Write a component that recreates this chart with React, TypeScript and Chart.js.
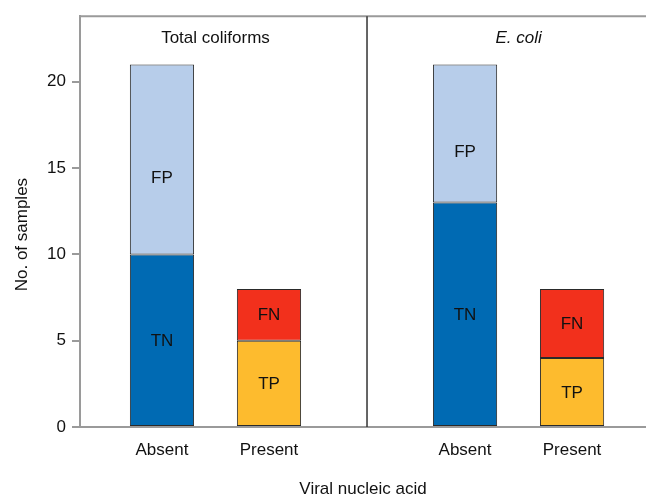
import { useEffect, useRef } from "react";
import { Chart, registerables } from "chart.js";

Chart.register(...registerables);

// ---- data ----
const groups = ["Total coliforms", "E. coli"];
const groupItalic = [false, true];
const categories = ["Absent", "Present"];
const trueNegative = [10, 13];
const falsePositive = [11, 8];
const truePositive = [5, 4];
const falseNegative = [3, 4];
const yTicks = [0, 5, 10, 15, 20];
const xTitle = "Viral nucleic acid";
const yTitle = "No. of samples";

// ---- layout constants (axis units) ----
const GROUP_STEP = 2.832;
const X_MIN = -0.766;
const X_MAX = 4.523;
const Y_MAX = 23.8;
const pos = (g: number, c: number) => g * GROUP_STEP + c;

const FONT = "'Liberation Sans', Arial, Helvetica, sans-serif";
const AXIS_GRAY = "#9a9a9a";

const overlayPlugin = {
  id: "overlay",
  afterDatasetsDraw(chart: any) {
    const { ctx, chartArea, scales } = chart;
    const { left, right, top, bottom } = chartArea;
    const xs = scales.x;
    const ys = scales.y;
    ctx.save();
    // top frame line
    ctx.strokeStyle = AXIS_GRAY;
    ctx.lineWidth = 2;
    ctx.beginPath();
    ctx.moveTo(left - 1, top);
    ctx.lineTo(right, top);
    ctx.stroke();
    // divider between panels
    const divX = xs.getPixelForValue((pos(0, categories.length - 1) + pos(1, 0)) / 2);
    ctx.strokeStyle = "#333333";
    ctx.lineWidth = 1.5;
    ctx.beginPath();
    ctx.moveTo(divX, top);
    ctx.lineTo(divX, bottom);
    ctx.stroke();
    // panel titles
    ctx.fillStyle = "#111111";
    ctx.textAlign = "center";
    ctx.textBaseline = "middle";
    groups.forEach((name, g) => {
      const cx = xs.getPixelForValue((pos(g, 0) + pos(g, categories.length - 1)) / 2);
      ctx.font = `${groupItalic[g] ? "italic " : ""}17px ${FONT}`;
      ctx.fillText(name, cx, top + 22);
    });
    // segment labels
    ctx.font = `17px ${FONT}`;
    chart.data.datasets.forEach((ds: any, i: number) => {
      const meta = chart.getDatasetMeta(i);
      const shiftPx = Math.abs(ys.getPixelForValue(0) - ys.getPixelForValue(ds.labelShift || 0));
      meta.data.forEach((el: any) => {
        const cy = (el.y + el.base) / 2 + shiftPx;
        ctx.fillText(ds.label, el.x, cy + 1);
      });
    });
    // y title
    ctx.translate(22, (top + bottom) / 2 + 13);
    ctx.rotate(-Math.PI / 2);
    ctx.fillText(yTitle, 0, 0);
    ctx.restore();
  },
};

export default function App() {
  const ref = useRef<HTMLCanvasElement | null>(null);

  useEffect(() => {
    if (!ref.current) return;
    const border = "#2a2a2a";
    const mk = (label: string, c: number, values: number[], color: string, labelShift = 0) => ({
      label,
      labelShift,
      data: groups.map((_, g) => ({ x: pos(g, c), y: values[g] })),
      backgroundColor: color,
      borderColor: border,
      borderWidth: 1,
      borderSkipped: false,
      barPercentage: 0.6,
      categoryPercentage: 1.0,
    });
    const chart = new Chart(ref.current, {
      type: "bar",
      data: {
        datasets: [
          mk("TN", 0, trueNegative, "#006ab3"),
          mk("FP", 0, falsePositive, "#b7cdea", 1.05),
          mk("TP", 1, truePositive, "#fdbb2e"),
          mk("FN", 1, falseNegative, "#f2301c"),
        ],
      },
      options: {
        animation: false,
        responsive: false,
        layout: { padding: { top: 14, left: 0, right: 0, bottom: 0 } },
        plugins: {
          legend: { display: false },
          tooltip: { enabled: false },
        },
        scales: {
          x: {
            type: "linear",
            stacked: true,
            offset: false,
            min: X_MIN,
            max: X_MAX,
            grid: { display: false, drawTicks: false, offset: false },
            border: { display: true, color: AXIS_GRAY, width: 2 },
            afterBuildTicks: (scale: any) => {
              scale.ticks = groups.flatMap((_, g) =>
                categories.map((_, c) => ({ value: pos(g, c) }))
              );
            },
            afterFit: (scale: any) => {
              scale.height = 73;
            },
            ticks: {
              autoSkip: false,
              maxRotation: 0,
              padding: 13,
              color: "#111111",
              font: { family: FONT, size: 17 },
              callback: (_v: any, i: number) => categories[i % categories.length],
            },
            title: {
              display: true,
              text: xTitle,
              color: "#111111",
              font: { family: FONT, size: 17 },
              padding: { top: 0, bottom: 0 },
            },
          },
          y: {
            type: "linear",
            stacked: true,
            min: 0,
            max: Y_MAX,
            grid: {
              drawOnChartArea: false,
              drawTicks: true,
              tickLength: 8,
              color: AXIS_GRAY,
              lineWidth: 2,
            },
            border: { display: true, color: AXIS_GRAY, width: 2 },
            afterBuildTicks: (scale: any) => {
              scale.ticks = yTicks.map((v) => ({ value: v }));
            },
            afterFit: (scale: any) => {
              scale.width = 80;
            },
            ticks: {
              padding: 6,
              color: "#111111",
              font: { family: FONT, size: 17 },
              callback: (v: any) => String(v),
            },
          },
        },
      },
      plugins: [overlayPlugin],
    } as any);
    return () => chart.destroy();
  }, []);

  return (
    <div style={{ position: "absolute", left: 0, top: 0, width: 646, height: 500, background: "#fff" }}>
      <canvas ref={ref} width={646} height={500} style={{ display: "block" }} />
    </div>
  );
}
